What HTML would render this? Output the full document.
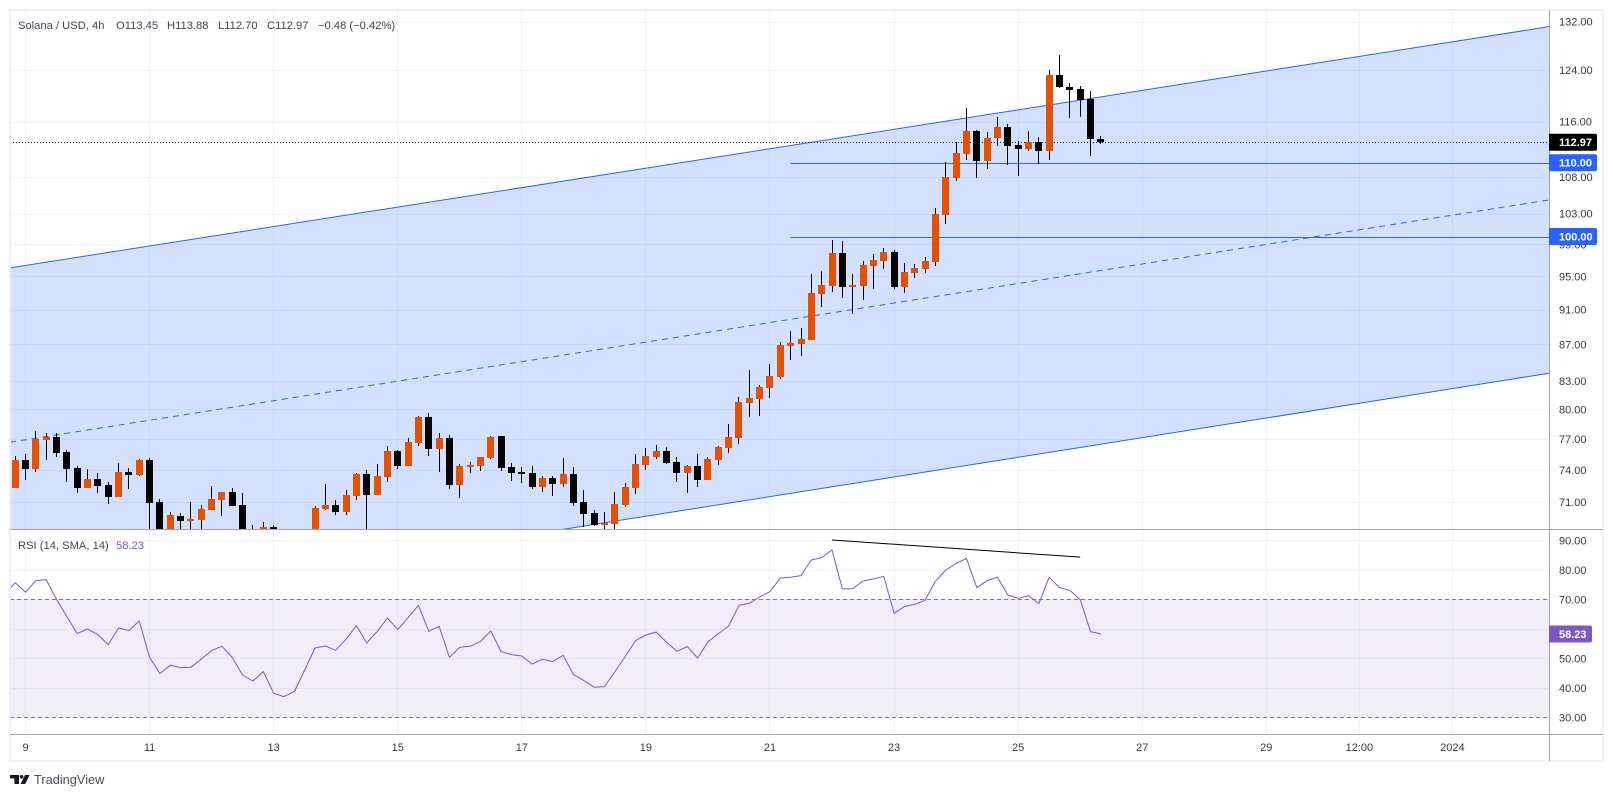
<!DOCTYPE html>
<html lang="en">
<head>
<meta charset="utf-8">
<title>Solana / USD 4h chart</title>
<style>
html,body{margin:0;padding:0;background:#fff;width:1613px;height:797px;overflow:hidden}
svg{display:block;font-family:"Liberation Sans",sans-serif}
</style>
</head>
<body>
<svg id="chart" xmlns="http://www.w3.org/2000/svg" width="1613" height="797" viewBox="0 0 1613 797" shape-rendering="auto">
  <defs>
    <clipPath id="price-clip"><rect x="10" y="10" width="1539.5" height="519.5"/></clipPath>
    <clipPath id="rsi-clip"><rect x="10" y="530" width="1539.5" height="204"/></clipPath>
  </defs>
  <rect x="0" y="0" width="1613" height="797" fill="#ffffff"/>
  <g id="grid"></g>
  <g id="drawings" clip-path="url(#price-clip)"></g>
  <g id="candles" clip-path="url(#price-clip)"></g>
  <g id="rsi" clip-path="url(#rsi-clip)"></g>
  <g id="axes"></g>

  <g font-size="11.2" fill="#434651">
    <text x="18" y="29">Solana / USD, 4h</text>
    <text x="116" y="29">O113.45</text>
    <text x="167" y="29">H113.88</text>
    <text x="218" y="29">L112.70</text>
    <text x="267" y="29">C112.97</text>
    <text x="318" y="29">−0.48 (−0.42%)</text>
    <text x="18" y="549">RSI (14, SMA, 14)</text>
    <text x="116" y="549" fill="#7e57c2">58.23</text>
  </g>

  <g>
    <rect x="10" y="775" width="9" height="3.4" fill="#131722"/>
    <rect x="14.4" y="775" width="4.6" height="9" fill="#131722"/>
    <circle cx="21.6" cy="776.8" r="1.8" fill="#131722"/>
    <polygon points="25,775 29.5,775 25.2,784 20.6,784" fill="#131722"/>
    <text x="34" y="784" font-size="12.8" fill="#4a4e5a">TradingView</text>
  </g>
</svg>

<script>
/* ---- chart data ---- */
const opens = [72.29,74.96,74.10,76.92,77.22,75.72,74.19,72.29,73.14,72.57,71.45,73.81,73.52,74.96,71.00,67.5,69.72,69.28,69.37,70.26,71.18,71.91,70.72,68.2,67.9,68.74,67.9,67.3,67.0,67.6,70.35,70.72,70.08,71.54,73.62,71.63,73.33,75.82,74.39,76.61,79.23,76.01,77.12,72.57,74.29,74.39,75.15,77.32,74.29,73.82,73.72,72.38,73.24,72.67,73.62,71.0,69.99,68.92,69.01,70.72,72.29,74.48,75.25,75.82,74.77,73.72,74.39,73.05,74.96,76.11,77.12,80.68,81.10,82.26,83.43,86.84,87.07,87.51,92.87,93.84,97.92,93.72,93.84,96.28,96.91,98.05,93.72,95.42,95.90,96.78,102.84,107.85,111.26,114.62,110.26,113.59,115.2,112.56,111.97,113.0,111.69,123.21,121.35,121.04,119.5,113.45];
const highs = [75.34,75.53,77.83,77.62,77.62,75.91,74.38,74.10,73.71,72.86,74.67,74.19,75.05,75.15,71.27,70.08,69.99,71.00,70.72,72.47,71.91,72.29,71.82,68.92,69.19,68.92,68.3,67.9,67.8,70.63,72.67,71.18,72.10,73.71,74.00,74.57,76.31,75.91,77.12,79.33,79.63,77.62,77.42,74.58,74.77,75.25,77.32,77.32,74.68,74.29,74.39,73.43,73.43,75.15,74.29,72.10,70.26,70.08,71.91,72.76,75.53,76.11,76.41,76.21,75.25,74.48,75.53,75.25,76.31,78.53,81.31,84.18,82.58,84.84,87.29,88.53,88.88,95.29,95.66,99.57,99.44,95.29,96.91,97.80,98.54,98.30,96.66,96.53,97.42,103.76,110.12,113.0,118.04,114.76,114.47,116.69,115.65,113.15,114.62,113.74,123.98,126.42,121.97,121.51,120.73,113.88];
const lows = [72.29,73.04,73.81,74.96,75.25,72.86,71.82,72.29,71.82,70.81,71.45,72.19,73.43,67,67,67,67.5,67.5,67.5,70.26,69.72,70.63,67,67.2,67.5,67.5,67.0,66.8,66.7,67.3,70.26,69.81,69.81,71.18,67,71.63,72.86,74.10,74.39,76.31,75.34,73.82,72.19,71.36,73.72,73.91,75.06,73.91,72.96,72.76,72.19,71.91,71.55,72.38,70.63,68.74,68.86,68.56,68.56,70.54,71.73,74.01,75.06,74.58,72.86,71.82,72.38,73.05,74.48,75.63,76.51,79.23,79.33,81.20,83.22,85.29,85.73,87.51,91.32,93.11,92.38,90.53,92.13,93.48,95.90,93.48,92.98,94.81,95.42,96.28,101.66,107.44,110.40,107.85,109.12,112.41,109.69,108.13,111.69,109.83,110.40,121.2,116.56,116.71,110.98,112.70];
const closes = [74.96,74.10,77.02,77.22,75.63,74.10,72.29,73.14,72.47,71.45,73.81,73.52,74.96,70.90,67.5,69.81,69.28,69.46,70.35,71.27,71.91,70.63,67.5,67.6,68.74,67.9,67.3,67.0,67.6,70.44,70.72,70.08,71.63,73.62,71.63,73.43,75.82,74.38,76.71,79.23,76.01,77.12,72.57,74.39,74.48,75.25,77.22,74.2,73.72,73.62,72.38,73.24,72.67,73.62,70.90,69.9,68.95,69.1,70.81,72.38,74.58,75.34,75.82,74.68,73.72,74.39,73.05,75.06,76.21,77.22,80.78,81.20,82.37,83.53,86.96,87.18,87.62,92.98,93.96,97.92,93.72,93.96,96.41,97.04,98.05,93.72,95.54,96.03,96.91,102.97,107.99,111.40,114.62,110.26,113.59,115.2,112.41,111.97,113.0,111.69,123.21,121.35,120.89,119.34,113.44,112.97];
const rsiStartBar = -1;
const rsiValues = [71.58,75.65,72.37,76.33,76.67,70.0,64.12,58.36,59.94,58.02,54.63,60.28,59.38,62.66,50.34,44.8,47.63,46.84,46.95,49.77,52.6,54.07,50.23,44.35,42.32,45.48,38.14,37.01,38.7,46.05,53.5,54.18,52.71,56.44,61.07,55.2,59.04,63.67,59.72,63.79,67.97,59.15,60.85,50.34,53.73,54.07,55.65,59.27,52.26,51.24,50.79,48.08,49.66,48.87,51.02,44.46,42.43,40.17,40.4,45.48,50.56,55.99,57.91,58.93,55.42,52.37,53.95,50.11,55.54,58.36,60.96,67.97,68.64,70.79,72.6,77.23,77.46,78.02,83.33,84.12,86.72,73.5,73.62,76.21,76.89,77.8,65.25,67.51,68.31,69.66,76.1,79.94,82.09,83.9,73.95,76.33,77.46,71.47,70.34,71.24,68.53,77.46,73.95,73.05,69.89,59.05,58.23];

const priceTicks = [132,124,116,108,103,99,95,91,87,83,80,77,74,71];
const rsiTicks = [90,80,70,60,50,40,30];
const rsiBand = [30,70];
const timeTickBars = [1,13,25,37,49,61,73,85,97,109,121,130,139];
const timeTickLabels = ['9','11','13','15','17','19','21','23','25','27','29','12:00','2024'];

const channelBars = [-0.5,148.34];
const channelUpper = [96.04,131.12];
const channelMiddle = [76.68,104.84];
const channelLower = [61.2,83.82];
const levelStartBar = 75;
const levelPrices = [110,100];
const lastPrice = 112.97;
const lastRsi = 58.23;
const divergenceBars = [79,103];
const divergenceValues = [90.1,84.3];

/* ---- axis functions ---- */
const barX = i => 15.16 + 10.34 * i;
const priceY = p => 21.5 + 774.6 * Math.log(132 / p);
const rsiY = v => 540.3 + (90 - v) * 2.95;
const fmt = v => v.toFixed(2);
const axisX = 1549.5;
const NS = 'http://www.w3.org/2000/svg';

function make(tag, attrs, parent, text) {
  const el = document.createElementNS(NS, tag);
  for (const k in attrs) el.setAttribute(k, attrs[k]);
  if (text !== undefined) el.textContent = text;
  parent.appendChild(el);
  return el;
}

const grid = document.getElementById('grid');
const drawings = document.getElementById('drawings');
const candles = document.getElementById('candles');
const rsi = document.getElementById('rsi');
const axes = document.getElementById('axes');
const GRID = '#f0f3fa';

/* ---- grid ---- */
priceTicks.forEach(t => {
  const y = Math.round(priceY(t)) + 0.5;
  const el = make('line', {x1: 10, x2: axisX, y1: y, y2: y, stroke: GRID, 'stroke-width': 1}, grid);
  
  
});
rsiTicks.forEach(t => {
  const y = Math.round(rsiY(t)) + 0.5;
  const el = make('line', {x1: 10, x2: axisX, y1: y, y2: y, stroke: GRID, 'stroke-width': 1}, grid);
  
  
});
timeTickBars.forEach(b => {
  const x = Math.floor(barX(b)) + 0.5;
  const el = make('line', {x1: x, x2: x, y1: 10, y2: 734, stroke: GRID, 'stroke-width': 1}, grid);
  
  
});

/* ---- channel and levels ---- */
const x0 = barX(channelBars[0]), x1 = barX(channelBars[1]);
const fill = make('polygon', {
  points: [[x0, priceY(channelUpper[0])], [x1, priceY(channelUpper[1])], [x1, priceY(channelLower[1])], [x0, priceY(channelLower[0])]].map(p => p.join(',')).join(' '),
  fill: '#2962ff', 'fill-opacity': 0.2
}, drawings);



const upperLine = make('line', {x1: x0, x2: x1, y1: priceY(channelUpper[0]), y2: priceY(channelUpper[1]), stroke: '#2962ff', 'stroke-width': 1}, drawings);



const lowerLine = make('line', {x1: x0, x2: x1, y1: priceY(channelLower[0]), y2: priceY(channelLower[1]), stroke: '#2962ff', 'stroke-width': 1}, drawings);



const middleLine = make('line', {x1: x0, x2: x1, y1: priceY(channelMiddle[0]), y2: priceY(channelMiddle[1]), stroke: '#2962ff', 'stroke-width': 1, 'stroke-dasharray': '6 5'}, drawings);



levelPrices.forEach(p => {
  const y = Math.round(priceY(p)) + 0.5;
  const el = make('line', {x1: barX(levelStartBar), x2: axisX, y1: y, y2: y, stroke: '#2962ff', 'stroke-width': 1}, drawings);
  
  
});

const lastLine = make('line', {x1: 10, x2: axisX, y1: Math.floor(priceY(lastPrice)) + 0.5, y2: Math.floor(priceY(lastPrice)) + 0.5, stroke: '#000', 'stroke-width': 1, 'stroke-dasharray': '1 2'}, drawings);



/* ---- candles ---- */
opens.forEach((o, i) => {
  const c = closes[i];
  const color = c >= o ? '#e65100' : '#000000';
  const cx = Math.floor(barX(i)) + 0.5;
  const top = Math.round(priceY(Math.max(o, c)));
  const bottom = Math.round(priceY(Math.min(o, c)));
  const g = make('g', {}, candles);
  
  
  const wick = make('line', {x1: cx, x2: cx, y1: Math.round(priceY(highs[i])), y2: Math.round(priceY(lows[i])), stroke: '#000000', 'stroke-width': 1}, g);
  
  
  const body = make('rect', {x: cx - 3.5, y: top, width: 7, height: Math.max(1, bottom - top), fill: color}, g);
  
  
});

/* ---- RSI pane ---- */
const bandTop = rsiY(rsiBand[1]), bandBottom = rsiY(rsiBand[0]);
const band = make('rect', {x: 10, y: bandTop, width: axisX - 10, height: bandBottom - bandTop, fill: '#7e57c2', 'fill-opacity': 0.1}, rsi);



rsiBand.forEach(v => {
  const y = Math.round(rsiY(v)) + 0.5;
  const el = make('line', {x1: 10, x2: axisX, y1: y, y2: y, stroke: '#787b86', 'stroke-width': 1, 'stroke-dasharray': '4 3'}, rsi);
  
  
});

const rsiLine = make('polyline', {
  points: rsiValues.map((v, i) => barX(i + rsiStartBar).toFixed(1) + ',' + rsiY(v).toFixed(1)).join(' '),
  fill: 'none', stroke: '#7e57c2', 'stroke-width': 1, 'stroke-linejoin': 'round'
}, rsi);



const divLine = make('line', {x1: barX(divergenceBars[0]), x2: barX(divergenceBars[1]), y1: rsiY(divergenceValues[0]), y2: rsiY(divergenceValues[1]), stroke: '#000', 'stroke-width': 1}, rsi);



/* ---- frame and axes ---- */
const frame = make('rect', {x: 10, y: 10, width: 1593, height: 751, fill: 'none', stroke: '#f0f0f5', 'stroke-width': 2}, axes);



const SEP = '#a5a5ad';
const priceAxisLine = make('line', {x1: axisX, x2: axisX, y1: 10, y2: 761, stroke: SEP, 'stroke-width': 1}, axes);



const paneSep = make('line', {x1: 10, x2: 1603, y1: 529.5, y2: 529.5, stroke: SEP, 'stroke-width': 1}, axes);



const timeAxisLine = make('line', {x1: 10, x2: 1603, y1: 734.5, y2: 734.5, stroke: SEP, 'stroke-width': 1}, axes);



const TICK = '#363a45';
priceTicks.forEach(t => {
  const el = make('text', {x: 1559, y: priceY(t) + 4, 'font-size': 11, fill: TICK}, axes, fmt(t));
  
  
});
rsiTicks.forEach(t => {
  const el = make('text', {x: 1559, y: rsiY(t) + 4, 'font-size': 11, fill: TICK}, axes, fmt(t));
  
  
});
timeTickBars.forEach((b, i) => {
  const el = make('text', {x: barX(b), y: 751, 'font-size': 11, fill: TICK, 'text-anchor': 'middle'}, axes, timeTickLabels[i]);
  
  
});

/* ---- price badges ---- */
function badgePath(x, y, w, h) {
  const r = 2;
  return 'M' + x + ' ' + y + 'H' + (x + w - r) + 'Q' + (x + w) + ' ' + y + ' ' + (x + w) + ' ' + (y + r) +
         'V' + (y + h - r) + 'Q' + (x + w) + ' ' + (y + h) + ' ' + (x + w - r) + ' ' + (y + h) + 'H' + x + 'Z';
}

const lastY = priceY(lastPrice);
const lastBadge = make('path', {d: badgePath(1549, lastY - 8.3, 48, 17), fill: '#000000'}, axes);


const lastText = make('text', {x: 1559, y: lastY + 4, 'font-size': 11, 'font-weight': 'bold', fill: '#ffffff'}, axes, fmt(lastPrice));



levelPrices.forEach(p => {
  const y = priceY(p);
  const b = make('path', {d: badgePath(1549, y - 8.5, 48, 17), fill: '#2962ff'}, axes);
  
  
  const t = make('text', {x: 1559, y: y + 4, 'font-size': 11, 'font-weight': 'bold', fill: '#ffffff'}, axes, fmt(p));
  
  
});

const rsiBadgeY = rsiY(lastRsi);
const rsiBadge = make('path', {d: badgePath(1549, rsiBadgeY - 8.5, 43, 17), fill: '#7e57c2'}, axes);


const rsiText = make('text', {x: 1559, y: rsiBadgeY + 4, 'font-size': 11, 'font-weight': 'bold', fill: '#ffffff'}, axes, fmt(lastRsi));


</script>
</body>
</html>
